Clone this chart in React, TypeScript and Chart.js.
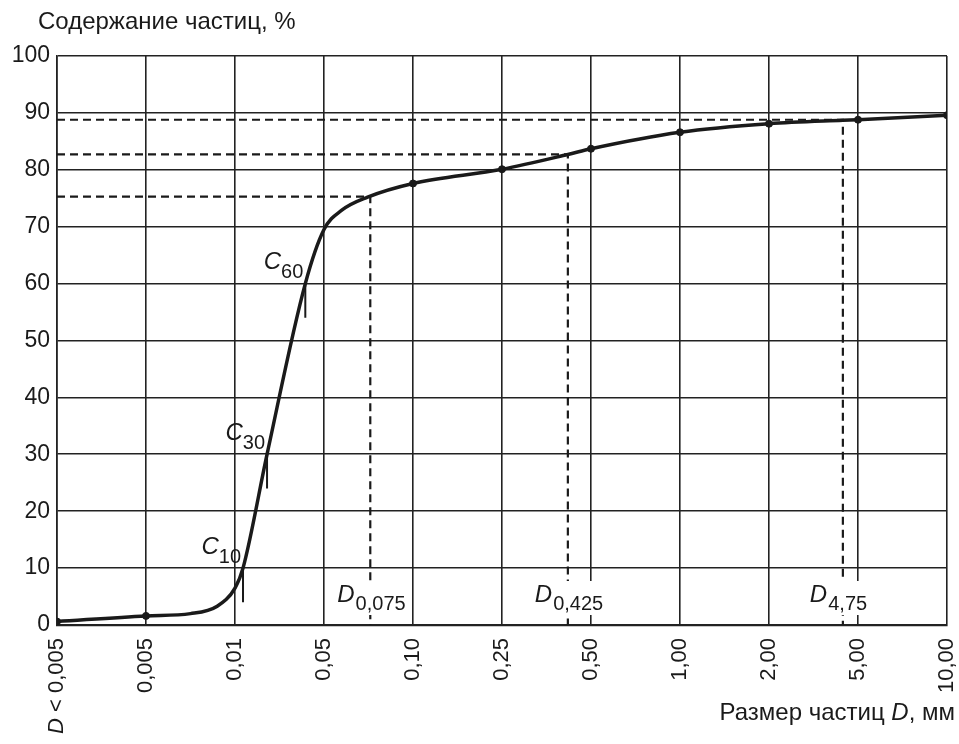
import React, { useEffect, useRef } from "react";
import { Chart, registerables } from "chart.js";

Chart.register(...registerables);

// ---------- data ----------
const sieveLabels = ["D < 0,005", "0,005", "0,01", "0,05", "0,10", "0,25", "0,50", "1,00", "2,00", "5,00", "10,00"];
const sieveIndex = [0, 1, 2, 3, 4, 5, 6, 7, 8, 9, 10];
const yTickValues = [0, 10, 20, 30, 40, 50, 60, 70, 80, 90, 100];

// measured points (dots)
const markerIndex = [0, 1, 4, 5, 6, 7, 8, 9, 10];
const markerPercent = [0.6, 1.6, 77.6, 80.1, 83.7, 86.6, 88.1, 88.8, 89.6];

// grading curve (smooth line)
const curveIndex = [0, 1, 1.5, 1.8, 2.0, 2.09, 2.36, 2.79, 3.0, 3.2, 3.49, 4, 5, 5.74, 6, 7, 8, 8.83, 9, 10];
const curvePercent = [0.6, 1.6, 2.0, 3.3, 6.5, 10, 30, 60, 69.5, 72.9, 75.2, 77.6, 80.1, 82.7, 83.7, 86.6, 88.1, 88.7, 88.8, 89.6];

// characteristic diameters C10, C30, C60
const cSubscripts = ["10", "30", "60"];
const cIndex = [2.09, 2.36, 2.79];
const cPercent = [10, 30, 60];
const cTickDrop = 6;

// sieve passing reference lines
const dSubscripts = ["0,075", "0,425", "4,75"];
const dIndex = [3.52, 5.74, 8.83];
const dPercent = [75.3, 82.7, 88.8];

const yTitle = "Содержание частиц, %";
const xTitleRuns: [string, boolean][] = [["Размер частиц ", false], ["D", true], [", мм", false]];

// ---------- helpers ----------
const FAM = '"Liberation Sans", Arial, Helvetica, sans-serif';
const font = (size: number, italic = false) => `${italic ? "italic " : ""}${size}px ${FAM}`;
const INK = "#1a1a1a";

const textPlugin = {
  id: "textPlugin",
  afterDraw(chart: any) {
    const { ctx, scales } = chart;
    const x = scales.x;
    const y = scales.y;
    ctx.save();
    ctx.fillStyle = INK;

    // x tick labels (rotated)
    sieveLabels.forEach((lab, i) => {
      const px = x.getPixelForValue(sieveIndex[i]);
      ctx.save();
      ctx.translate(px, y.bottom + 13);
      ctx.rotate(-Math.PI / 2);
      ctx.textBaseline = "middle";
      ctx.textAlign = "right";
      if (lab.startsWith("D ")) {
        const rest = lab.slice(1);
        ctx.font = font(22);
        const w = ctx.measureText(rest).width;
        ctx.fillText(rest, 0, 0);
        ctx.font = font(22, true);
        ctx.fillText("D", -w, 0);
      } else {
        ctx.font = font(22);
        ctx.fillText(lab, 0, 0);
      }
      ctx.restore();
    });

    // y title
    ctx.font = font(24);
    ctx.textAlign = "left";
    ctx.textBaseline = "middle";
    ctx.fillText(yTitle, 38, 22);

    // x title (right aligned)
    let total = 0;
    xTitleRuns.forEach(([t, it]) => {
      ctx.font = font(24, it);
      total += ctx.measureText(t).width;
    });
    let cx = 955 - total;
    xTitleRuns.forEach(([t, it]) => {
      ctx.font = font(24, it);
      ctx.fillText(t, cx, 713);
      cx += ctx.measureText(t).width;
    });

    // C labels
    cSubscripts.forEach((sub, i) => {
      const px = x.getPixelForValue(cIndex[i]);
      const py = y.getPixelForValue(cPercent[i]);
      ctx.font = font(20);
      const ws = ctx.measureText(sub).width;
      ctx.font = font(24, true);
      const wc = ctx.measureText("C").width;
      const right = px - 2;
      ctx.textAlign = "left";
      ctx.textBaseline = "middle";
      ctx.font = font(24, true);
      ctx.fillText("C", right - ws - wc, py - 21);
      ctx.font = font(20);
      ctx.fillText(sub, right - ws, py - 11);
    });

    // D labels
    dSubscripts.forEach((sub, i) => {
      const px = x.getPixelForValue(dIndex[i]);
      const baseY = y.getPixelForValue(0);
      ctx.font = font(24, true);
      const wd = ctx.measureText("D").width;
      ctx.font = font(20);
      const ws = ctx.measureText(sub).width;
      const left = px - 33;
      ctx.fillStyle = "#ffffff";
      ctx.fillRect(left - 2, baseY - 44, wd + ws + 6, 34);
      ctx.fillStyle = INK;
      ctx.textAlign = "left";
      ctx.textBaseline = "middle";
      ctx.font = font(24, true);
      ctx.fillText("D", left, baseY - 30);
      ctx.font = font(20);
      ctx.fillText(sub, left + wd + 1, baseY - 21);
    });

    ctx.restore();
  },
};

export default function App() {
  const canvasRef = useRef<HTMLCanvasElement | null>(null);

  useEffect(() => {
    document.body.style.margin = "0";
    const canvas = canvasRef.current;
    if (!canvas) return;

    const curveData = curveIndex.map((v, i) => ({ x: v, y: curvePercent[i] }));
    const markerData = markerIndex.map((v, i) => ({ x: v, y: markerPercent[i] }));

    const dashedSets = dIndex.map((v, i) => ({
      type: "line" as const,
      data: [
        { x: 0, y: dPercent[i] },
        { x: v, y: dPercent[i] },
        { x: v, y: 0 },
      ],
      borderColor: INK,
      borderWidth: 2.2,
      borderDash: [8, 5],
      pointRadius: 0,
      fill: false,
      tension: 0,
      order: 5,
    }));

    const cTickSets = cIndex.map((v, i) => ({
      type: "line" as const,
      data: [
        { x: v, y: cPercent[i] },
        { x: v, y: cPercent[i] - cTickDrop },
      ],
      borderColor: INK,
      borderWidth: 2,
      pointRadius: 0,
      fill: false,
      tension: 0,
      order: 2,
    }));

    const chart = new Chart(canvas, {
      type: "line",
      data: {
        datasets: [
          {
            type: "scatter" as const,
            data: markerData,
            backgroundColor: INK,
            borderColor: INK,
            pointRadius: 3.5,
            showLine: false,
            order: 0,
          } as any,
          {
            type: "line" as const,
            data: curveData,
            borderColor: INK,
            borderWidth: 3.5,
            pointRadius: 0,
            cubicInterpolationMode: "monotone",
            fill: false,
            order: 1,
          },
          ...cTickSets,
          ...dashedSets,
        ],
      },
      options: {
        animation: false,
        responsive: true,
        maintainAspectRatio: false,
        devicePixelRatio: 1,
        layout: { padding: { top: 56, right: 12, left: 0, bottom: 0 } },
        plugins: {
          legend: { display: false },
          tooltip: { enabled: false },
        },
        scales: {
          x: {
            type: "linear",
            min: 0,
            max: 10,
            afterBuildTicks: (scale: any) => {
              scale.ticks = sieveIndex.map((v) => ({ value: v }));
            },
            afterFit: (scale: any) => {
              scale.height = 119;
            },
            ticks: { display: false },
            grid: { color: "#222", lineWidth: 1.6, drawTicks: false },
            border: { color: "#222", width: 2.2 },
          },
          y: {
            type: "linear",
            min: 0,
            max: 100,
            afterBuildTicks: (scale: any) => {
              scale.ticks = yTickValues.map((v) => ({ value: v }));
            },
            afterFit: (scale: any) => {
              scale.width = 57;
            },
            ticks: {
              color: INK,
              padding: 7,
              font: { family: FAM, size: 23 },
            },
            grid: { color: "#222", lineWidth: 1.6, drawTicks: false },
            border: { color: "#222", width: 1.6 },
          },
        },
      },
      plugins: [textPlugin],
    });

    return () => chart.destroy();
  }, []);

  return (
    <div style={{ position: "absolute", left: 0, top: 0, width: 959, height: 744, background: "#fff" }}>
      <canvas ref={canvasRef} />
    </div>
  );
}
